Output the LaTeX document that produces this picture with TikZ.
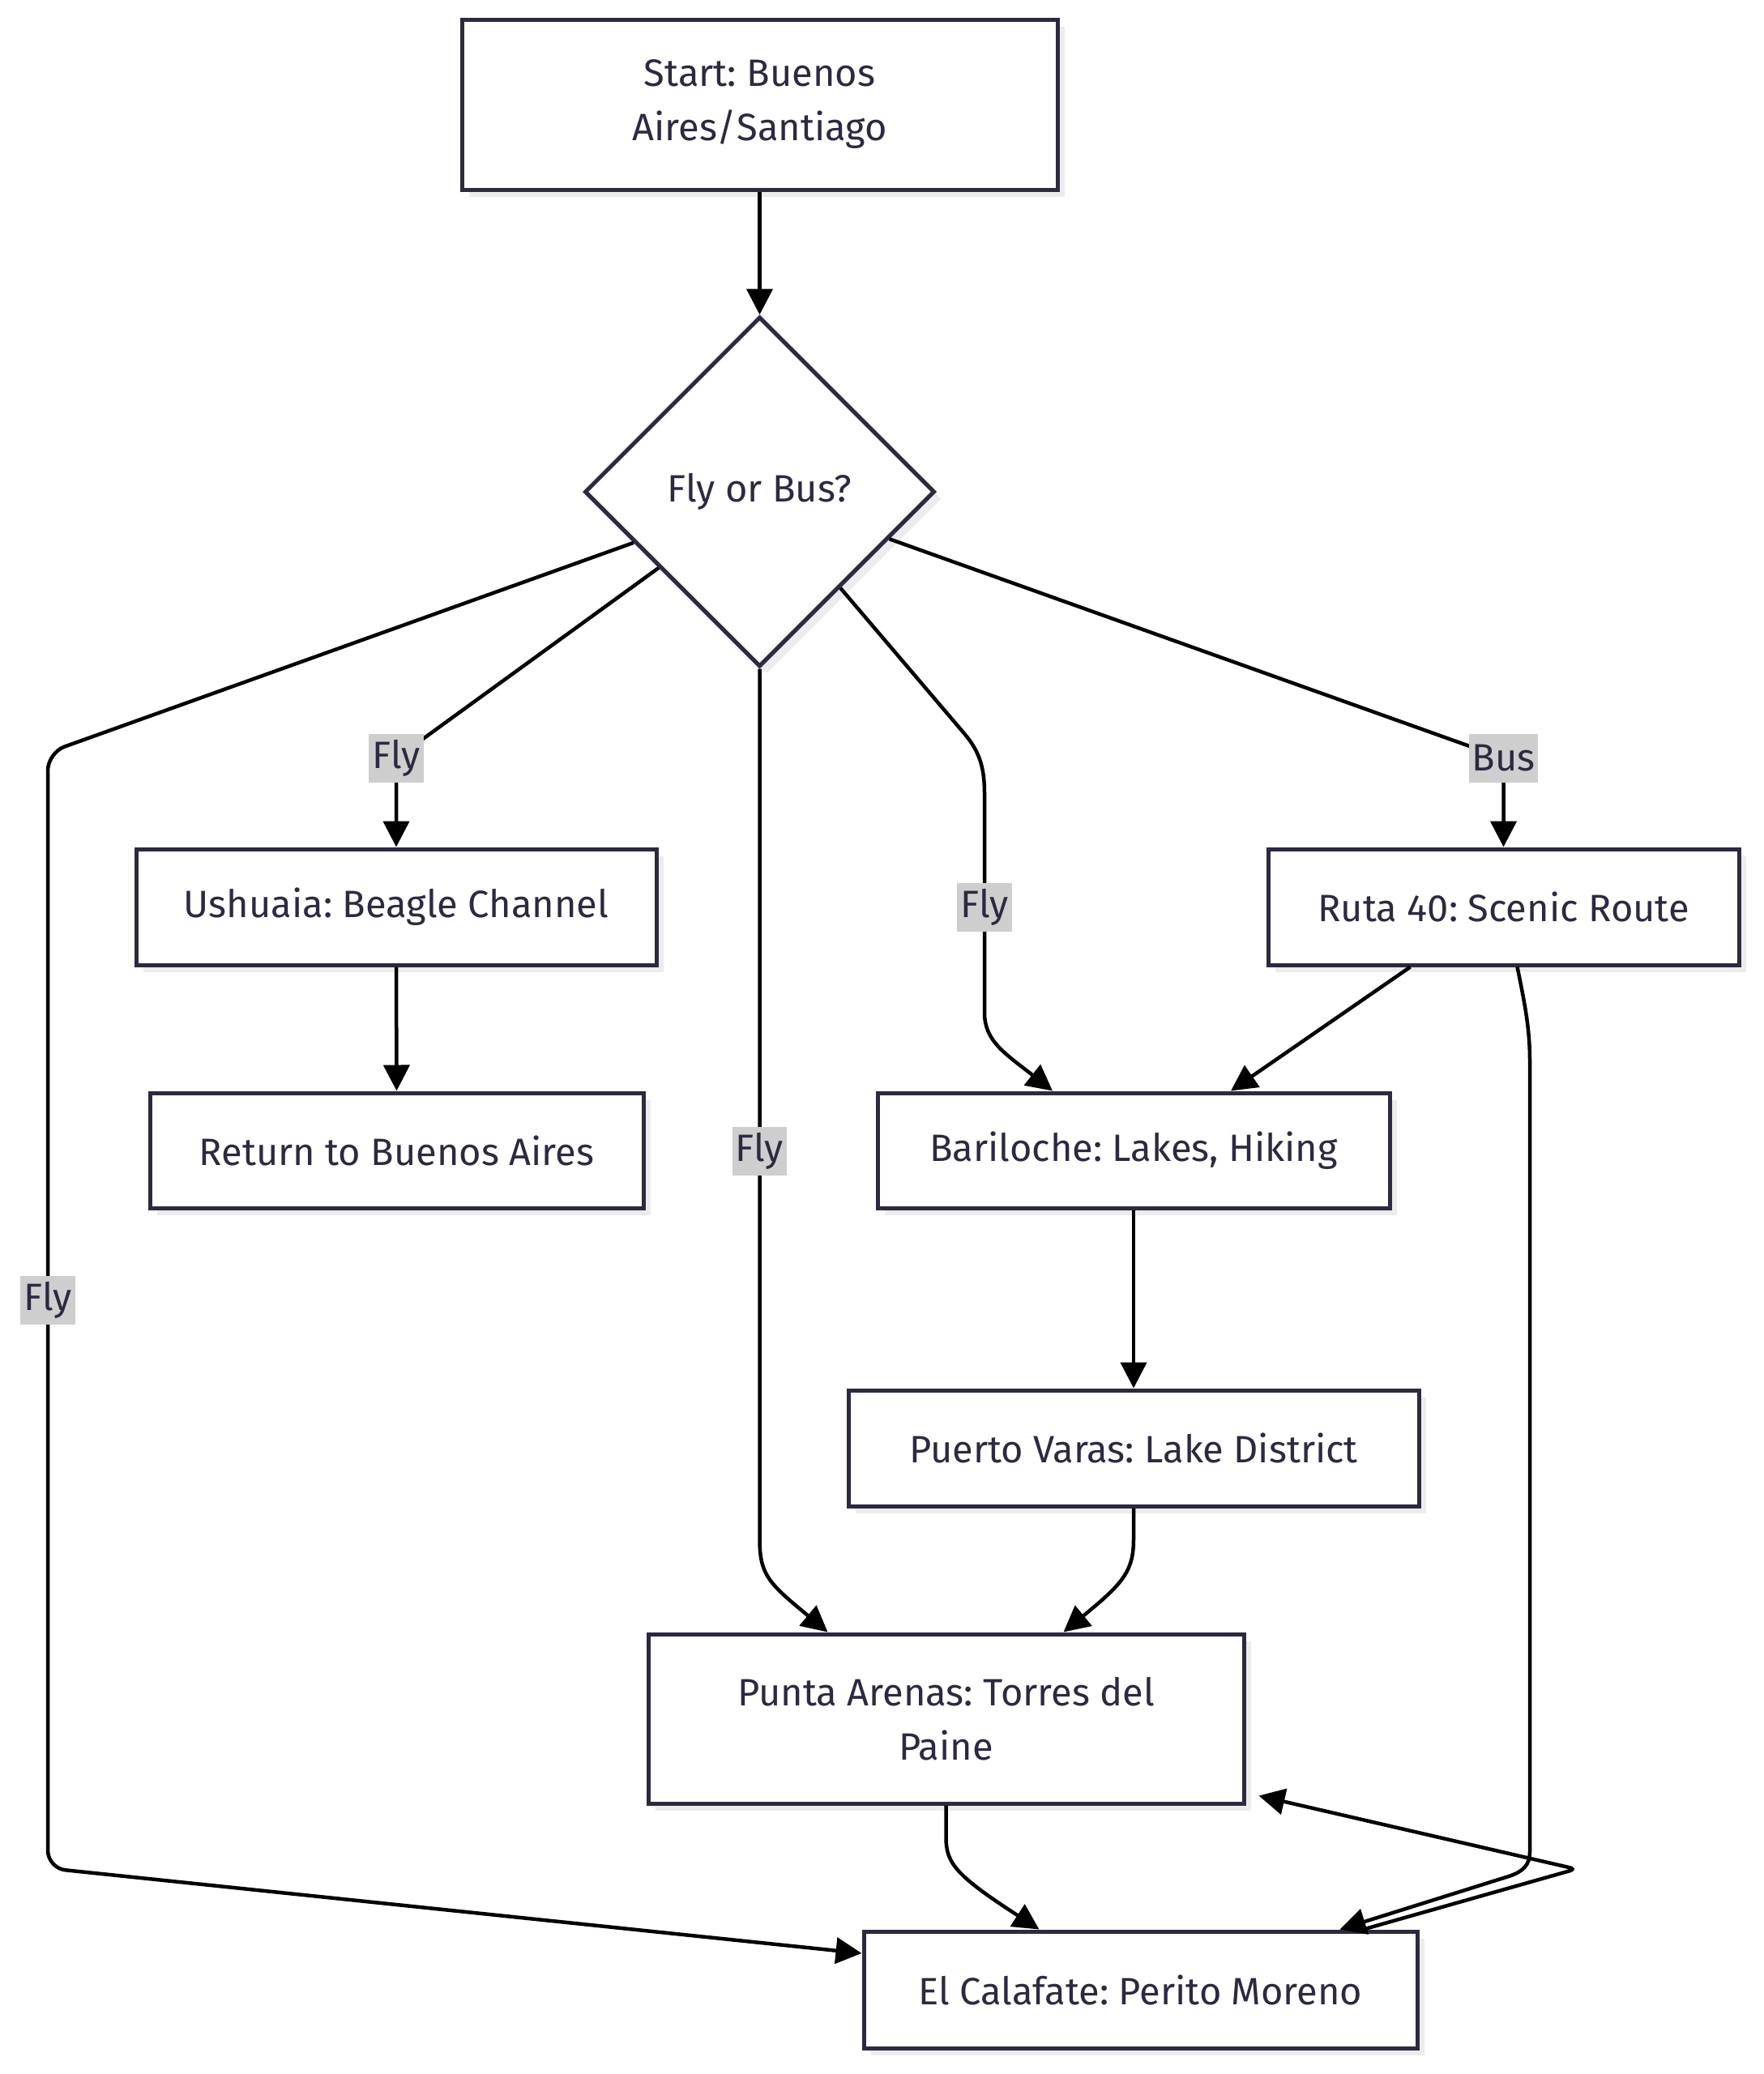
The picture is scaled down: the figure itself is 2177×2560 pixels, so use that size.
\documentclass[tikz,border=0pt]{standalone}
\usepackage{fontspec}
\setmainfont{Fira Sans}
\usetikzlibrary{shapes.geometric,arrows.meta,shadows,calc}
\definecolor{navy}{RGB}{43,42,64}
\definecolor{shadowcol}{RGB}{236,236,236}
\definecolor{lblgray}{RGB}{206,206,206}
\frenchspacing
\tikzset{
  box/.style={draw=navy, line width=5pt, fill=white, text=navy, align=center,
    font=\fontsize{47}{67}\selectfont, inner sep=0pt,
    drop shadow={shadow xshift=9pt, shadow yshift=-9pt, fill=shadowcol, opacity=1}},
  decision/.style={box, shape=diamond, aspect=1, minimum width=432pt, minimum height=432pt},
  edge/.style={draw=black, line width=4.5pt, -{Triangle[length=32pt,width=32pt]}},
  lbl/.style={fill=lblgray, text=navy, font=\fontsize{47}{54}\selectfont, inner sep=4pt,
    minimum height=60pt, sharp corners}
}
\begin{document}
\begin{tikzpicture}[x=1pt,y=-1pt]
\useasboundingbox (0,0) rectangle (2177,2560);

\node[box, minimum width=735pt, minimum height=210pt] (start) at (937.5,129) {Start: Buenos\\Aires/Santiago};
\node[decision] (dec) at (937.5,607) {Fly or Bus?};
\node[box, minimum width=642pt, minimum height=143pt] (ush) at (489,1119.5) {Ushuaia: Beagle Channel};
\node[box, minimum width=609pt, minimum height=142pt] (ret) at (489.5,1420) {Return to Buenos Aires};
\node[box, minimum width=581pt, minimum height=143pt] (ruta) at (1855.5,1119.5) {Ruta 40: Scenic Route};
\node[box, minimum width=632pt, minimum height=142pt] (bari) at (1399,1420) {Bariloche: Lakes, Hiking};
\node[box, minimum width=704pt, minimum height=143pt] (pv) at (1399,1787.5) {Puerto Varas: Lake District};
\node[box, minimum width=735pt, minimum height=209pt] (pa) at (1167.5,2121.5) {Punta Arenas: Torres del\\Paine};
\node[box, minimum width=683pt, minimum height=144pt] (ec) at (1407.5,2456) {El Calafate: Perito Moreno};

% start -> decision
\draw[edge] (start.south) -- (dec.north);
% decision -> Ushuaia (Fly)
\draw[edge] (dec.217) -- (489,936) node[lbl] {Fly} -- (ush.north);
% decision -> Ruta 40 (Bus)
\draw[edge] (dec.340) -- (1855.5,936) node[lbl] {Bus} -- (ruta.north);
% decision -> Bariloche (Fly)
\draw[edge] (dec.310) -- (1188,903) .. controls (1208,926) and (1215,945) .. (1215,980)
  -- (1215,1120) node[lbl] {Fly} -- (1215,1250) .. controls (1215,1285) and (1240,1300) .. ([xshift=-100pt]bari.north);
% decision -> Punta Arenas (Fly)
\draw[edge] (dec.south) -- (937.5,1421) node[lbl] {Fly} -- (937.5,1900) .. controls (937.5,1945) and (950,1955) .. ([xshift=-146pt]pa.north);
% decision -> El Calafate (Fly)
\draw[edge, rounded corners=22pt] (dec.202) -- (59,929) -- (59,1605) node[lbl] {Fly} -- (59,2306) -- ([yshift=45pt]ec.west);
% Ushuaia -> Return
\draw[edge] (ush.south) -- (ret.north);
% Ruta 40 -> Bariloche
\draw[edge] ([xshift=-115pt]ruta.south) -- ([xshift=120pt]bari.north);
% Ruta 40 -> El Calafate
\draw[edge] ([xshift=17pt]ruta.south) .. controls (1882,1240) and (1888,1270) .. (1888,1310) -- (1888,2285)
  .. controls (1888,2302) and (1880,2310) .. (1862,2316) -- ([xshift=246pt]ec.north);
% Bariloche -> Puerto Varas
\draw[edge] (bari.south) -- (pv.north);
% Puerto Varas -> Punta Arenas
\draw[edge] (pv.south) -- (1399,1900) .. controls (1399,1940) and (1385,1955) .. ([xshift=145pt]pa.north);
% Punta Arenas -> El Calafate
\draw[edge] (pa.south) -- (1167.5,2268) .. controls (1167.5,2300) and (1180,2315) .. ([xshift=-125pt]ec.north);
% El Calafate -> Punta Arenas
\draw[edge, rounded corners=8pt] ([xshift=275pt]ec.north) -- (1945,2307) -- ([xshift=16pt,yshift=12pt]pa.south east);
\end{tikzpicture}
\end{document}
